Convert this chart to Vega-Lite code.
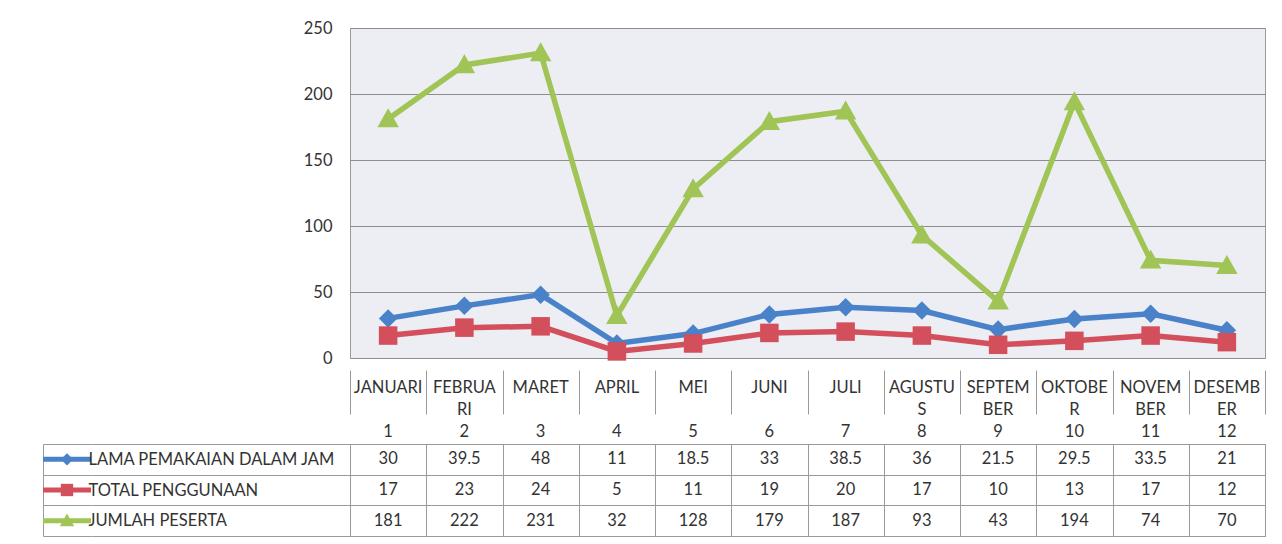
{
  "$schema": "https://vega.github.io/schema/vega-lite/v6.json",
  "background": "white",
  "padding": {"left": 40, "top": 19, "right": 0, "bottom": 0},
  "bounds": "flush",
  "spacing": 0,
  "columns": 3,
  "config": {
    "view": {"stroke": null},
    "font": "Lato",
    "text": {"font": "Lato", "fontSize": 16.5, "color": "#333333"},
    "axis": {"labelFont": "Lato"}
  },
  "datasets": {
    "bulan": [
      {"no": 1, "label": "JANUARI"},
      {"no": 2, "label": "FEBRUA\nRI"},
      {"no": 3, "label": "MARET"},
      {"no": 4, "label": "APRIL"},
      {"no": 5, "label": "MEI"},
      {"no": 6, "label": "JUNI"},
      {"no": 7, "label": "JULI"},
      {"no": 8, "label": "AGUSTU\nS"},
      {"no": 9, "label": "SEPTEM\nBER"},
      {"no": 10, "label": "OKTOBE\nR"},
      {"no": 11, "label": "NOVEM\nBER"},
      {"no": 12, "label": "DESEMB\nER"}
    ],
    "nilai": [
      {"no": 1, "seri": "LAMA PEMAKAIAN DALAM JAM", "nilai": 30},
      {"no": 2, "seri": "LAMA PEMAKAIAN DALAM JAM", "nilai": 39.5},
      {"no": 3, "seri": "LAMA PEMAKAIAN DALAM JAM", "nilai": 48},
      {"no": 4, "seri": "LAMA PEMAKAIAN DALAM JAM", "nilai": 11},
      {"no": 5, "seri": "LAMA PEMAKAIAN DALAM JAM", "nilai": 18.5},
      {"no": 6, "seri": "LAMA PEMAKAIAN DALAM JAM", "nilai": 33},
      {"no": 7, "seri": "LAMA PEMAKAIAN DALAM JAM", "nilai": 38.5},
      {"no": 8, "seri": "LAMA PEMAKAIAN DALAM JAM", "nilai": 36},
      {"no": 9, "seri": "LAMA PEMAKAIAN DALAM JAM", "nilai": 21.5},
      {"no": 10, "seri": "LAMA PEMAKAIAN DALAM JAM", "nilai": 29.5},
      {"no": 11, "seri": "LAMA PEMAKAIAN DALAM JAM", "nilai": 33.5},
      {"no": 12, "seri": "LAMA PEMAKAIAN DALAM JAM", "nilai": 21},
      {"no": 1, "seri": "TOTAL PENGGUNAAN", "nilai": 17},
      {"no": 2, "seri": "TOTAL PENGGUNAAN", "nilai": 23},
      {"no": 3, "seri": "TOTAL PENGGUNAAN", "nilai": 24},
      {"no": 4, "seri": "TOTAL PENGGUNAAN", "nilai": 5},
      {"no": 5, "seri": "TOTAL PENGGUNAAN", "nilai": 11},
      {"no": 6, "seri": "TOTAL PENGGUNAAN", "nilai": 19},
      {"no": 7, "seri": "TOTAL PENGGUNAAN", "nilai": 20},
      {"no": 8, "seri": "TOTAL PENGGUNAAN", "nilai": 17},
      {"no": 9, "seri": "TOTAL PENGGUNAAN", "nilai": 10},
      {"no": 10, "seri": "TOTAL PENGGUNAAN", "nilai": 13},
      {"no": 11, "seri": "TOTAL PENGGUNAAN", "nilai": 17},
      {"no": 12, "seri": "TOTAL PENGGUNAAN", "nilai": 12},
      {"no": 1, "seri": "JUMLAH PESERTA", "nilai": 181},
      {"no": 2, "seri": "JUMLAH PESERTA", "nilai": 222},
      {"no": 3, "seri": "JUMLAH PESERTA", "nilai": 231},
      {"no": 4, "seri": "JUMLAH PESERTA", "nilai": 32},
      {"no": 5, "seri": "JUMLAH PESERTA", "nilai": 128},
      {"no": 6, "seri": "JUMLAH PESERTA", "nilai": 179},
      {"no": 7, "seri": "JUMLAH PESERTA", "nilai": 187},
      {"no": 8, "seri": "JUMLAH PESERTA", "nilai": 93},
      {"no": 9, "seri": "JUMLAH PESERTA", "nilai": 43},
      {"no": 10, "seri": "JUMLAH PESERTA", "nilai": 194},
      {"no": 11, "seri": "JUMLAH PESERTA", "nilai": 74},
      {"no": 12, "seri": "JUMLAH PESERTA", "nilai": 70}
    ]
  },
  "concat": [
    {"width": 48, "height": 330, "data": {"name": "bulan"}, "mark": {"type": "point", "opacity": 0}},
    {"width": 259, "height": 330, "data": {"name": "bulan"}, "mark": {"type": "point", "opacity": 0}},
    {
      "width": 915,
      "height": 330,
      "data": {"name": "nilai"},
      "view": {"fill": "#eceef3", "stroke": "#9a9a9a"},
      "encoding": {
        "x": {"field": "no", "type": "ordinal", "scale": {"type": "point", "padding": 0.5, "domain": [1,2,3,4,5,6,7,8,9,10,11,12]}, "axis": null},
        "y": {
          "field": "nilai", "type": "quantitative",
          "scale": {"domain": [0, 250], "nice": false},
          "axis": {"values": [0, 50, 100, 150, 200, 250], "title": null, "domain": false, "ticks": false, "labelPadding": 18, "labelFontSize": 16.5, "labelColor": "#333333", "gridColor": "#8d8d8d", "gridOpacity": 1}
        },
        "color": {
          "field": "seri", "type": "nominal",
          "scale": {"domain": ["LAMA PEMAKAIAN DALAM JAM", "TOTAL PENGGUNAAN", "JUMLAH PESERTA"], "range": ["#4a82c9", "#d44f5c", "#a0c455"]},
          "legend": null
        }
      },
      "layer": [
        {"mark": {"type": "line", "strokeWidth": 5.5}},
        {
          "mark": {"type": "point", "filled": true, "opacity": 1, "size": 380},
          "encoding": {
            "shape": {
              "field": "seri", "type": "nominal",
              "scale": {"domain": ["LAMA PEMAKAIAN DALAM JAM", "TOTAL PENGGUNAAN", "JUMLAH PESERTA"], "range": ["M0,-0.95L0.95,0L0,0.95L-0.95,0Z", "M-0.95,-0.95H0.95V0.95H-0.95Z", "M0,-1.1L1.1,0.85L-1.1,0.85Z"]},
              "legend": null
            }
          }
        }
      ]
    },
    {"width": 48, "height": 86, "data": {"name": "bulan"}, "mark": {"type": "point", "opacity": 0}},
    {"width": 259, "height": 86, "data": {"name": "bulan"}, "mark": {"type": "point", "opacity": 0}},
    {
      "width": 915,
      "height": 86,
      "data": {"name": "bulan"},
      "encoding": {
        "x": {"field": "no", "type": "ordinal", "scale": {"type": "band", "domain": [1,2,3,4,5,6,7,8,9,10,11,12], "paddingInner": 0, "paddingOuter": 0}, "axis": {"grid": true, "tickBand": "extent", "labels": false, "ticks": false, "domain": false, "title": null, "gridColor": "#9a9a9a", "gridOpacity": 1}}
      },
      "layer": [
        {
          "mark": {"type": "text", "lineBreak": "\n", "lineHeight": 22, "fontSize": 16.5, "baseline": "middle"},
          "encoding": {
            "y": {"datum": "label", "type": "nominal", "scale": {"type": "point", "domain": ["label", "no"], "range": [30, 74], "padding": 0}, "axis": null},
            "text": {"field": "label", "type": "nominal"}
          }
        },
        {
          "mark": {"type": "text", "fontSize": 16.5, "baseline": "middle"},
          "encoding": {
            "y": {"datum": "no", "type": "nominal"},
            "text": {"field": "no", "type": "ordinal"}
          }
        }
      ]
    },
    {
      "width": 48,
      "height": 92,
      "data": {"name": "nilai"},
      "transform": [{"filter": "datum.no == 1"}],
      "encoding": {
        "y": {"field": "seri", "type": "nominal", "scale": {"type": "band", "domain": ["LAMA PEMAKAIAN DALAM JAM", "TOTAL PENGGUNAAN", "JUMLAH PESERTA"], "paddingInner": 0, "paddingOuter": 0}, "axis": {"grid": true, "tickBand": "extent", "labels": false, "ticks": false, "domain": true, "domainColor": "#9a9a9a", "title": null, "gridColor": "#9a9a9a", "gridOpacity": 1}},
        "color": {"field": "seri", "type": "nominal", "scale": {"domain": ["LAMA PEMAKAIAN DALAM JAM", "TOTAL PENGGUNAAN", "JUMLAH PESERTA"], "range": ["#4a82c9", "#d44f5c", "#a0c455"]}, "legend": null}
      },
      "layer": [
        {"mark": {"type": "rule", "strokeWidth": 5}},
        {
          "mark": {"type": "point", "filled": true, "opacity": 1, "size": 169},
          "encoding": {
            "shape": {
              "field": "seri", "type": "nominal",
              "scale": {"domain": ["LAMA PEMAKAIAN DALAM JAM", "TOTAL PENGGUNAAN", "JUMLAH PESERTA"], "range": ["M0,-0.95L0.95,0L0,0.95L-0.95,0Z", "M-0.95,-0.95H0.95V0.95H-0.95Z", "M0,-1.1L1.1,0.85L-1.1,0.85Z"]},
              "legend": null
            }
          }
        }
      ]
    },
    {
      "width": 259,
      "height": 92,
      "data": {"name": "nilai"},
      "transform": [{"filter": "datum.no == 1"}],
      "mark": {"type": "point", "opacity": 0},
      "encoding": {
        "y": {"field": "seri", "type": "nominal", "scale": {"type": "band", "domain": ["LAMA PEMAKAIAN DALAM JAM", "TOTAL PENGGUNAAN", "JUMLAH PESERTA"], "paddingInner": 0, "paddingOuter": 0}, "axis": {"grid": true, "tickBand": "extent", "labels": true, "labelAlign": "left", "labelPadding": 3, "labelFontSize": 16.5, "labelColor": "#333333", "labelLimit": 400, "ticks": false, "domain": false, "title": null, "gridColor": "#9a9a9a", "gridOpacity": 1}}
      }
    },
    {
      "width": 915,
      "height": 92,
      "data": {"name": "nilai"},
      "view": {"stroke": "#9a9a9a"},
      "mark": {"type": "text", "fontSize": 16.5, "baseline": "middle"},
      "encoding": {
        "x": {"field": "no", "type": "ordinal", "scale": {"type": "band", "domain": [1,2,3,4,5,6,7,8,9,10,11,12], "paddingInner": 0, "paddingOuter": 0}, "axis": {"grid": true, "tickBand": "extent", "labels": false, "ticks": false, "domain": false, "title": null, "gridColor": "#9a9a9a", "gridOpacity": 1}},
        "y": {"field": "seri", "type": "nominal", "scale": {"type": "band", "domain": ["LAMA PEMAKAIAN DALAM JAM", "TOTAL PENGGUNAAN", "JUMLAH PESERTA"], "paddingInner": 0, "paddingOuter": 0}, "axis": {"grid": true, "tickBand": "extent", "labels": false, "ticks": false, "domain": false, "title": null, "gridColor": "#9a9a9a", "gridOpacity": 1}},
        "text": {"field": "nilai", "type": "quantitative"}
      }
    }
  ]
}
